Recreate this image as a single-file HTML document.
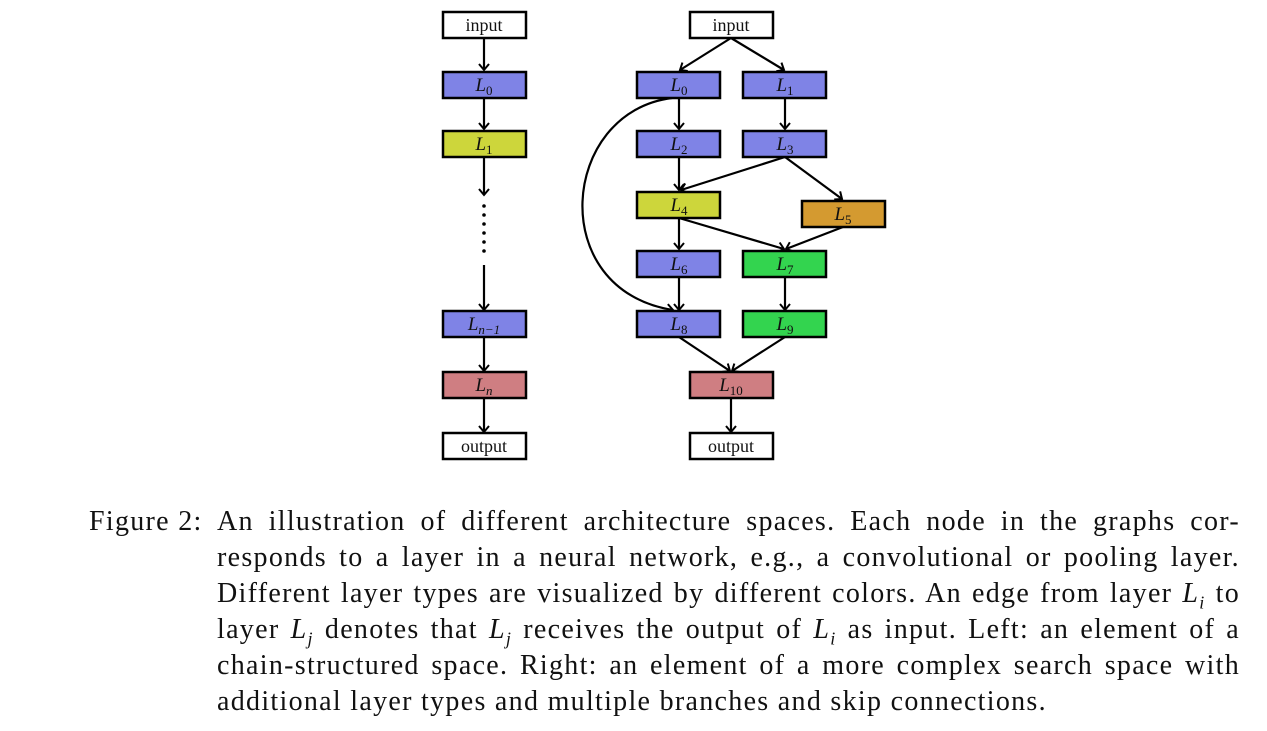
<!DOCTYPE html>
<html><head><meta charset="utf-8"><style>
body{margin:0;background:#fff;width:1267px;height:731px;overflow:hidden;position:relative;font-family:"Liberation Serif",serif;}
svg{position:absolute;left:0;top:0}
.cap{position:absolute;left:217px;width:1023px;font-size:28px;line-height:36px;color:#111;letter-spacing:1.3px;white-space:nowrap;}
.j{text-align:justify;text-align-last:justify;white-space:normal;}
sub{font-size:18px;line-height:0;}
</style></head><body>
<svg width="1267" height="480" viewBox="0 0 1267 480">
<defs><marker id="a" markerUnits="userSpaceOnUse" markerWidth="14" markerHeight="14" refX="0" refY="0" viewBox="-8 -7 10 14" orient="auto"><path d="M-6,-5 L0,0 L-6,5" fill="none" stroke="#000" stroke-width="2"/></marker></defs>
<g fill="none" stroke="#000" stroke-width="2.2" marker-end="url(#a)">
<line x1="484" y1="38" x2="484" y2="70"/>
<line x1="484" y1="98" x2="484" y2="129"/>
<line x1="484" y1="157" x2="484" y2="195"/>
<line x1="484" y1="265" x2="484" y2="310"/>
<line x1="484" y1="337" x2="484" y2="371"/>
<line x1="484" y1="398" x2="484" y2="432"/>
<line x1="731" y1="38" x2="680" y2="70"/>
<line x1="731" y1="38" x2="784" y2="70"/>
<line x1="679" y1="98" x2="679" y2="129"/>
<line x1="785" y1="98" x2="785" y2="129"/>
<line x1="679" y1="157" x2="679" y2="190"/>
<line x1="785" y1="157" x2="681" y2="190"/>
<line x1="785" y1="157" x2="842" y2="199"/>
<line x1="679" y1="218" x2="679" y2="249"/>
<line x1="679" y1="218" x2="784" y2="249"/>
<line x1="843" y1="227" x2="786" y2="249"/>
<line x1="679" y1="277" x2="679" y2="310"/>
<line x1="785" y1="277" x2="785" y2="310"/>
<line x1="679" y1="337" x2="730" y2="371"/>
<line x1="785" y1="337" x2="732" y2="371"/>
<line x1="731" y1="398" x2="731" y2="432"/>
<path d="M672 98 C 560 112, 545 290, 673 310"/>
</g>
<g fill="#000"><circle cx="484" cy="206" r="1.8"/><circle cx="484" cy="215" r="1.8"/><circle cx="484" cy="224" r="1.8"/><circle cx="484" cy="233" r="1.8"/><circle cx="484" cy="242" r="1.8"/><circle cx="484" cy="251" r="1.8"/></g>
<g stroke="#000" stroke-width="2.5">
<rect x="443" y="12" width="83" height="26" fill="#fff"/>
<rect x="443" y="72" width="83" height="26" fill="#7f83e6"/>
<rect x="443" y="131" width="83" height="26" fill="#cdd63b"/>
<rect x="443" y="311" width="83" height="26" fill="#7f83e6"/>
<rect x="443" y="372" width="83" height="26" fill="#cf7e82"/>
<rect x="443" y="433" width="83" height="26" fill="#fff"/>
<rect x="690" y="12" width="83" height="26" fill="#fff"/>
<rect x="637" y="72" width="83" height="26" fill="#7f83e6"/>
<rect x="743" y="72" width="83" height="26" fill="#7f83e6"/>
<rect x="637" y="131" width="83" height="26" fill="#7f83e6"/>
<rect x="743" y="131" width="83" height="26" fill="#7f83e6"/>
<rect x="637" y="192" width="83" height="26" fill="#cdd63b"/>
<rect x="802" y="201" width="83" height="26" fill="#d49a30"/>
<rect x="637" y="251" width="83" height="26" fill="#7f83e6"/>
<rect x="743" y="251" width="83" height="26" fill="#33d44f"/>
<rect x="637" y="311" width="83" height="26" fill="#7f83e6"/>
<rect x="743" y="311" width="83" height="26" fill="#33d44f"/>
<rect x="690" y="372" width="83" height="26" fill="#cf7e82"/>
<rect x="690" y="433" width="83" height="26" fill="#fff"/>
</g>
<g font-family="Liberation Serif, serif" font-size="18" text-anchor="middle" fill="#111">
<text x="484" y="31">input</text><text x="484" y="452">output</text>
<text x="731" y="31">input</text><text x="731" y="452">output</text>
<g font-style="italic" font-size="19">
<text x="484" y="91">L<tspan font-size="13" font-style="normal" dy="4">0</tspan></text>
<text x="484" y="150">L<tspan font-size="13" font-style="normal" dy="4">1</tspan></text>
<text x="484" y="330">L<tspan font-size="13" dy="4">n−1</tspan></text>
<text x="484" y="391">L<tspan font-size="13" dy="4">n</tspan></text>
<text x="679" y="91">L<tspan font-size="13" font-style="normal" dy="4">0</tspan></text>
<text x="785" y="91">L<tspan font-size="13" font-style="normal" dy="4">1</tspan></text>
<text x="679" y="150">L<tspan font-size="13" font-style="normal" dy="4">2</tspan></text>
<text x="785" y="150">L<tspan font-size="13" font-style="normal" dy="4">3</tspan></text>
<text x="679" y="211">L<tspan font-size="13" font-style="normal" dy="4">4</tspan></text>
<text x="843" y="220">L<tspan font-size="13" font-style="normal" dy="4">5</tspan></text>
<text x="679" y="270">L<tspan font-size="13" font-style="normal" dy="4">6</tspan></text>
<text x="785" y="270">L<tspan font-size="13" font-style="normal" dy="4">7</tspan></text>
<text x="679" y="330">L<tspan font-size="13" font-style="normal" dy="4">8</tspan></text>
<text x="785" y="330">L<tspan font-size="13" font-style="normal" dy="4">9</tspan></text>
<text x="731" y="391">L<tspan font-size="13" font-style="normal" dy="4">10</tspan></text>
</g></g>
</svg>
<div class="cap" style="left:89px;top:504px;width:130px">Figure 2:</div>
<div class="cap j" style="top:504px">An illustration of different architecture spaces. Each node in the graphs cor-</div>
<div class="cap j" style="top:540px">responds to a layer in a neural network, e.g., a convolutional or pooling layer.</div>
<div class="cap j" style="top:576px">Different layer types are visualized by different colors. An edge from layer <i>L<sub>i</sub></i> to</div>
<div class="cap j" style="top:612px">layer <i>L<sub>j</sub></i> denotes that <i>L<sub>j</sub></i> receives the output of <i>L<sub>i</sub></i> as input. Left: an element of a</div>
<div class="cap j" style="top:648px">chain-structured space. Right: an element of a more complex search space with</div>
<div class="cap" style="top:684px">additional layer types and multiple branches and skip connections.</div>
</body></html>
